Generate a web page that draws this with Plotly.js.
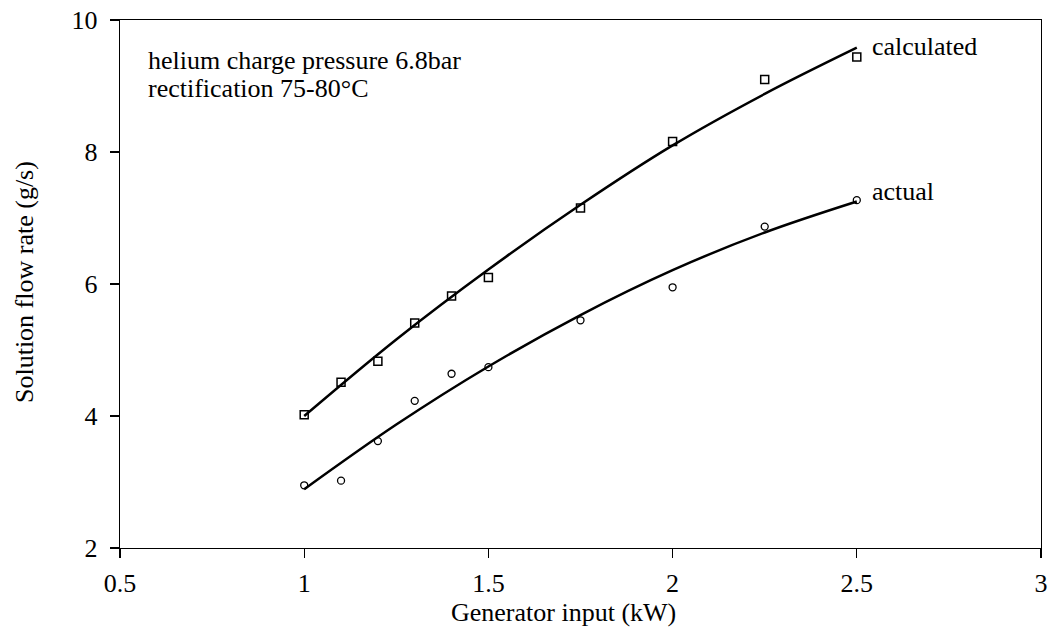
<!DOCTYPE html>
<html>
<head>
<meta charset="utf-8">
<script src="https://cdn.plot.ly/plotly-3.0.1.min.js"></script>
<style>html,body{margin:0;padding:0;background:#fff;}#chart{width:1051px;height:630px;}</style>
</head>
<body>
<div id="chart"></div>
<script>
var generatorInput = [1, 1.1, 1.2, 1.3, 1.4, 1.5, 1.75, 2, 2.25, 2.5];
var calculatedFlow = [4.02, 4.51, 4.83, 5.41, 5.82, 6.10, 7.15, 8.16, 9.10, 9.44];
var actualFlow = [2.95, 3.02, 3.62, 4.23, 4.64, 4.74, 5.45, 5.95, 6.87, 7.27];
var fitX = [1, 1.25, 1.5, 1.75, 2, 2.25, 2.5];
var calculatedFit = [4.0, 5.16, 6.22, 7.2, 8.1, 8.88, 9.58];
var actualFit = [2.89, 3.87, 4.75, 5.53, 6.21, 6.78, 7.25];
var xTicks = [0.5, 1, 1.5, 2, 2.5, 3];
var yTicks = [2, 4, 6, 8, 10];

var font = 'Liberation Serif, Times New Roman, serif';
var traces = [
  {x: fitX, y: calculatedFit, mode: 'lines', line: {color: '#000', width: 2.5, shape: 'spline'}, hoverinfo: 'skip'},
  {x: fitX, y: actualFit, mode: 'lines', line: {color: '#000', width: 2.5, shape: 'spline'}, hoverinfo: 'skip'},
  {x: generatorInput, y: calculatedFlow, mode: 'markers', marker: {symbol: 'square-open', size: 8, color: '#000', line: {width: 1.5, color: '#000'}}},
  {x: generatorInput, y: actualFlow, mode: 'markers', marker: {symbol: 'circle-open', size: 7, color: '#000', line: {width: 1.3, color: '#000'}}}
];
var axisCommon = {
  showline: true, mirror: true, linecolor: '#000', linewidth: 1.2,
  ticks: 'outside', ticklen: 9, tickwidth: 1.2, tickcolor: '#000',
  showgrid: false, zeroline: false,
  tickfont: {family: font, size: 26, color: '#000'}
};
var layout = {
  width: 1051, height: 630,
  margin: {l: 120, r: 10, t: 20, b: 82},
  paper_bgcolor: '#fff', plot_bgcolor: '#fff',
  showlegend: false,
  font: {family: font, color: '#000'},
  xaxis: Object.assign({}, axisCommon, {
    range: [0.5, 3], tickvals: xTicks, ticktext: xTicks.map(String), ticklabelstandoff: 3
  }),
  yaxis: Object.assign({}, axisCommon, {
    range: [2, 10], tickvals: yTicks, ticktext: yTicks.map(String), ticklabelstandoff: 7
  }),
  annotations: [
    {x: 0.482, y: -0.1231, xref: 'paper', yref: 'paper', text: 'Generator input (kW)', showarrow: false, xanchor: 'center', yanchor: 'middle', font: {family: font, size: 26, color: '#000'}},
    {x: -0.103, y: 0.504, xref: 'paper', yref: 'paper', text: 'Solution flow rate (g/s)', textangle: -90, showarrow: false, xanchor: 'center', yanchor: 'middle', font: {family: font, size: 26, color: '#000'}},
    {x: 2.537, y: 9.60, xref: 'x', yref: 'y', text: 'calculated', showarrow: false, xanchor: 'left', yanchor: 'middle', font: {family: font, size: 26, color: '#000'}},
    {x: 2.535, y: 7.40, xref: 'x', yref: 'y', text: 'actual', showarrow: false, xanchor: 'left', yanchor: 'middle', font: {family: font, size: 26, color: '#000'}},
    {x: 0.5705, y: 9.39, xref: 'x', yref: 'y', text: 'helium charge pressure 6.8bar', showarrow: false, xanchor: 'left', yanchor: 'middle', font: {family: font, size: 26, color: '#000'}},
    {x: 0.5705, y: 8.965, xref: 'x', yref: 'y', text: 'rectification 75-80°C', showarrow: false, xanchor: 'left', yanchor: 'middle', font: {family: font, size: 26, color: '#000'}}
  ]
};
Plotly.newPlot('chart', traces, layout, {displayModeBar: false, staticPlot: true});
</script>
</body>
</html>
